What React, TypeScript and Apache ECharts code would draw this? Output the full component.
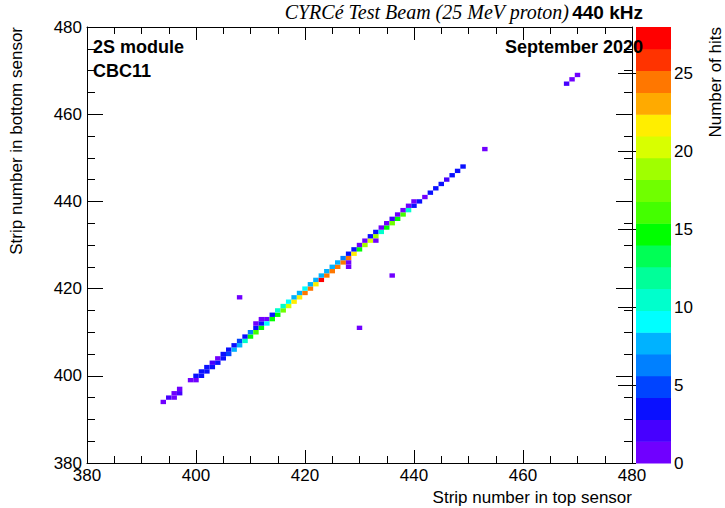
import { useEffect, useRef } from 'react';
import * as echarts from 'echarts';

// Strip number in top sensor (x) / bottom sensor (y) / number of hits (z)
const TOP_STRIP = [
  394, 395, 396, 396, 397, 397, 399, 400, 400, 401, 401, 402, 402, 403, 403, 404, 404,
  405, 405, 406, 406, 407, 407, 408, 408, 409, 409, 410, 410, 411, 411, 411, 412, 412, 412,
  413, 413, 414, 414, 415, 415, 416, 416, 417, 417, 418, 418, 419, 419, 420, 420, 421, 421,
  422, 422, 423, 423, 424, 424, 425, 425, 426, 426, 427, 427, 428, 428, 428, 428, 429, 429,
  430, 430, 431, 431, 432, 432, 433, 433, 433, 434, 434, 435, 435, 436, 436, 437, 437, 438,
  438, 439, 439, 440, 440, 441, 442, 443, 444, 445, 446, 447, 448, 449,
  408, 430, 436, 453, 468, 469, 470,
];
const BOTTOM_STRIP = [
  394, 395, 395, 396, 396, 397, 399, 399, 400, 400, 401, 401, 402, 402, 403, 403, 404,
  404, 405, 405, 406, 406, 407, 407, 408, 408, 409, 409, 410, 410, 411, 412, 411, 412, 413,
  413, 412, 413, 414, 414, 415, 415, 416, 416, 417, 417, 418, 418, 419, 419, 420, 420, 421,
  421, 422, 422, 423, 423, 424, 424, 425, 425, 426, 426, 427, 427, 428, 426, 425, 428, 429,
  429, 430, 430, 431, 431, 432, 432, 433, 431, 433, 434, 434, 435, 435, 436, 436, 437, 437,
  438, 438, 439, 439, 440, 440, 441, 442, 443, 444, 445, 446, 447, 448,
  418, 411, 423, 452, 467, 468, 469,
];
const HITS = [
  1, 2, 1, 1, 2, 1, 1, 1, 3, 4, 3, 4, 3, 4, 2, 3, 1,
  4, 3, 5, 3, 7, 4, 8, 5, 10, 3, 14, 6, 16, 3, 1, 14, 4, 1,
  1, 9, 15, 3, 14, 10, 18, 11, 20, 9, 21, 8, 22, 8, 24, 9, 24, 8,
  21, 7, 28, 7, 25, 8, 24, 7, 25, 7, 24, 6, 24, 4, 1, 1, 21, 3,
  15, 1, 19, 1, 20, 3, 19, 4, 1, 10, 1, 15, 1, 17, 2, 15, 1, 16,
  1, 10, 1, 4, 1, 3, 1, 3, 4, 3, 2, 3, 4, 4,
  1, 1, 1, 1, 2, 1, 1,
];

const PALETTE = [
  '#7000ff', '#4600ff', '#0a10ff', '#0044ff', '#0080ff', '#00b2ff', '#00ffff',
  '#00ffcc', '#00ff99', '#00ff55', '#00ff00', '#44ff00', '#70ff00', '#a0ff00',
  '#d8ff00', '#ffee00', '#ffaa00', '#ff7700', '#ff3300', '#ff0000',
];
const Z_MAX = 28;
const COLORBAR_TICKS = [0, 5, 10, 15, 20, 25];
const X_MIN = 380;
const X_MAX = 480;
const Y_MIN = 380;
const Y_MAX = 480;
const MAJOR_STEP = 20;

export default function App() {
  const ref = useRef<HTMLDivElement>(null);
  useEffect(() => {
    const chart = echarts.init(ref.current!, null, { renderer: 'svg' });
    const font = "'Liberation Sans', Arial, Helvetica, sans-serif";
    const step = Z_MAX / PALETTE.length;
    const colorOf = (v: number) =>
      PALETTE[Math.min(PALETTE.length - 1, Math.floor(v / step))];
    const cells = TOP_STRIP.map((x, i) => [x, BOTTOM_STRIP[i], HITS[i]]);
    const bands = PALETTE.map((_, i) => [i * step, (i + 1) * step, i]);
    const black = { color: '#000', width: 1 };

    const mainX = (position: 'bottom' | 'top', labels: boolean) => ({
      gridIndex: 0,
      type: 'value',
      min: X_MIN,
      max: X_MAX,
      interval: MAJOR_STEP,
      position,
      z: 10,
      axisLine: { show: true, onZero: false, lineStyle: black },
      axisTick: { show: true, inside: true, length: 13, lineStyle: black },
      minorTick: { show: true, splitNumber: 4, length: 7, lineStyle: black },
      splitLine: { show: false },
      minorSplitLine: { show: false },
      axisLabel: {
        show: labels,
        fontSize: 17,
        color: '#000',
        fontFamily: font,
        margin: 4,
      },
    });
    const mainY = (position: 'left' | 'right', labels: boolean) => ({
      gridIndex: 0,
      type: 'value',
      min: Y_MIN,
      max: Y_MAX,
      interval: MAJOR_STEP,
      position,
      z: 10,
      axisLine: { show: true, onZero: false, lineStyle: black },
      axisTick: { show: true, inside: true, length: 16, lineStyle: black },
      minorTick: { show: true, splitNumber: 4, length: 8, lineStyle: black },
      splitLine: { show: false },
      minorSplitLine: { show: false },
      axisLabel: {
        show: labels,
        fontSize: 17,
        color: '#000',
        fontFamily: font,
        margin: 5,
      },
    });

    const label = (
      text: string,
      x: number,
      y: number,
      fontSpec: string,
      align: 'left' | 'right',
      rotation = 0,
    ) => ({
      type: 'text',
      x,
      y,
      z: 100,
      rotation,
      style: {
        text,
        font: fontSpec,
        fill: '#000',
        align,
        verticalAlign: 'middle',
      },
    });

    chart.setOption({
      animation: false,
      backgroundColor: '#fff',
      grid: [
        { left: 87, top: 27, width: 545, height: 436 },
        { left: 636, top: 27, width: 35, height: 436 },
      ],
      xAxis: [
        mainX('bottom', true),
        mainX('top', false),
        { gridIndex: 1, type: 'value', min: 0, max: 1, show: false },
      ],
      yAxis: [
        mainY('left', true),
        mainY('right', false),
        {
          gridIndex: 1,
          type: 'value',
          min: 0,
          max: Z_MAX,
          position: 'right',
          z: 10,
          axisLine: { show: false },
          axisTick: {
            show: true,
            inside: true,
            length: 18,
            customValues: COLORBAR_TICKS,
            lineStyle: black,
          },
          axisLabel: {
            customValues: COLORBAR_TICKS,
            fontSize: 17,
            color: '#000',
            fontFamily: font,
            margin: 3,
          },
          splitLine: { show: false },
        },
      ],
      series: [
        {
          type: 'custom',
          xAxisIndex: 0,
          yAxisIndex: 0,
          silent: true,
          data: cells,
          renderItem: (_p: any, api: any) => {
            const x = api.value(0);
            const y = api.value(1);
            const a = api.coord([x - 0.5, y + 0.5]);
            const b = api.coord([x + 0.5, y - 0.5]);
            return {
              type: 'rect',
              shape: { x: a[0], y: a[1], width: b[0] - a[0], height: b[1] - a[1] },
              style: { fill: colorOf(api.value(2)) },
            };
          },
        },
        {
          type: 'custom',
          xAxisIndex: 2,
          yAxisIndex: 2,
          silent: true,
          data: bands,
          renderItem: (_p: any, api: any) => {
            const a = api.coord([0, api.value(1)]);
            const b = api.coord([1, api.value(0)]);
            return {
              type: 'rect',
              shape: { x: a[0], y: a[1], width: b[0] - a[0], height: b[1] - a[1] + 0.5 },
              style: { fill: PALETTE[api.value(2)] },
            };
          },
        },
      ],
      graphic: [
        {
          type: 'text',
          x: 643,
          y: 12,
          z: 100,
          style: {
            text: '{a|CYRCé Test Beam (25 MeV proton)} {b|440 kHz}',
            align: 'right',
            verticalAlign: 'middle',
            rich: {
              a: {
                fontFamily: "'Liberation Serif', 'Times New Roman', serif",
                fontStyle: 'italic',
                fontSize: 20,
                fill: '#000',
              },
              b: { fontFamily: font, fontWeight: 'bold', fontSize: 19, fill: '#000' },
            },
          },
        },
        label('2S module', 93, 47, `bold 18px ${font}`, 'left'),
        label('CBC11', 93, 71, `bold 18px ${font}`, 'left'),
        label('September 2020', 643, 47, `bold 18px ${font}`, 'right'),
        label('Strip number in top sensor', 632, 497, `17px ${font}`, 'right'),
        label('Strip number in bottom sensor', 16, 27, `17px ${font}`, 'right', Math.PI / 2),
        label('Number of hits', 715, 27, `17px ${font}`, 'right', Math.PI / 2),
      ],
    });
    return () => chart.dispose();
  }, []);
  return (
    <div
      ref={ref}
      style={{ position: 'absolute', left: 0, top: 0, width: 725, height: 508 }}
    />
  );
}
